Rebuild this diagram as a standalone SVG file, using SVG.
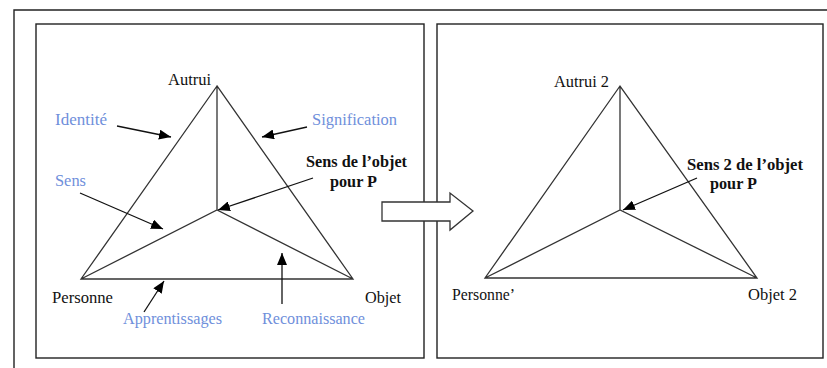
<svg xmlns="http://www.w3.org/2000/svg" width="827" height="368" viewBox="0 0 827 368">
<style>
.frame{fill:none;stroke:#222;stroke-width:1.4}
.edge{fill:none;stroke:#333;stroke-width:1.3}
.ptr{fill:none;stroke:#111;stroke-width:1.3;marker-end:url(#ah)}
text{font-family:'Liberation Serif','DejaVu Serif',serif;font-size:16px}
.lbl{fill:#111}
.blue{fill:#6f8fdb}
.bold{font-weight:bold;fill:#111}
</style>
<defs>
<marker id="ah" markerUnits="userSpaceOnUse" markerWidth="14" markerHeight="10" refX="12" refY="5" orient="auto">
<path d="M0,0 L12,5 L0,10 Z" fill="#000"/>
</marker>
</defs>
<rect width="827" height="368" fill="#fff"/>
<path class="frame" d="M14,368 V10 H827"/>
<g id="panel-left">
<rect class="frame" x="36" y="24" width="388" height="334"/>
</g>
<g id="panel-right">
<rect class="frame" x="437" y="24" width="386" height="334"/>
</g>
<g id="triangle-left">
<path class="edge" d="M217,86 L81,279 L353,279 Z M217,86 V210 M81,279 L217,210 L353,279"/>
</g>
<g id="triangle-right">
<path class="edge" d="M620,86 L485,278 L757,278 Z M620,86 V210 M485,278 L620,210 L757,278"/>
</g>
<g id="labels-left">
<text class="lbl" x="168" y="85" textLength="43" lengthAdjust="spacingAndGlyphs">Autrui</text>
<text class="lbl" x="52" y="303" textLength="61" lengthAdjust="spacingAndGlyphs">Personne</text>
<text class="lbl" x="365" y="303" textLength="36" lengthAdjust="spacingAndGlyphs">Objet</text>
<text class="bold" x="306" y="167" textLength="101" lengthAdjust="spacingAndGlyphs">Sens de l’objet</text>
<text class="bold" x="330" y="187" textLength="47" lengthAdjust="spacingAndGlyphs">pour P</text>
<text class="blue" x="55" y="125" textLength="52" lengthAdjust="spacingAndGlyphs">Identité</text>
<text class="blue" x="312" y="125" textLength="85" lengthAdjust="spacingAndGlyphs">Signification</text>
<text class="blue" x="55" y="186" textLength="31" lengthAdjust="spacingAndGlyphs">Sens</text>
<text class="blue" x="123" y="324" textLength="99" lengthAdjust="spacingAndGlyphs">Apprentissages</text>
<text class="blue" x="262" y="324" textLength="103" lengthAdjust="spacingAndGlyphs">Reconnaissance</text>
</g>
<g id="labels-right">
<text class="lbl" x="554" y="87" textLength="55" lengthAdjust="spacingAndGlyphs">Autrui 2</text>
<text class="lbl" x="452" y="300" textLength="63" lengthAdjust="spacingAndGlyphs">Personne’</text>
<text class="lbl" x="748" y="300" textLength="49" lengthAdjust="spacingAndGlyphs">Objet 2</text>
<text class="bold" x="687" y="170" textLength="116" lengthAdjust="spacingAndGlyphs">Sens 2 de l’objet</text>
<text class="bold" x="710" y="189" textLength="47" lengthAdjust="spacingAndGlyphs">pour P</text>
</g>
<g id="connectors">
<line class="ptr" x1="117" y1="126" x2="171" y2="137"/>
<line class="ptr" x1="307" y1="127" x2="262" y2="137"/>
<line class="ptr" x1="313" y1="178" x2="218" y2="210"/>
<line class="ptr" x1="80" y1="193" x2="163" y2="229"/>
<line class="ptr" x1="144" y1="312" x2="164" y2="281"/>
<line class="ptr" x1="282" y1="304" x2="282" y2="253"/>
<line class="ptr" x1="697" y1="178" x2="623" y2="210"/>
</g>
<g id="transition-arrow">
<polygon points="382,202 450,202 450,193 473,211 450,230 450,221 382,221" fill="#fff" stroke="#333" stroke-width="1.3"/>
</g>
</svg>
